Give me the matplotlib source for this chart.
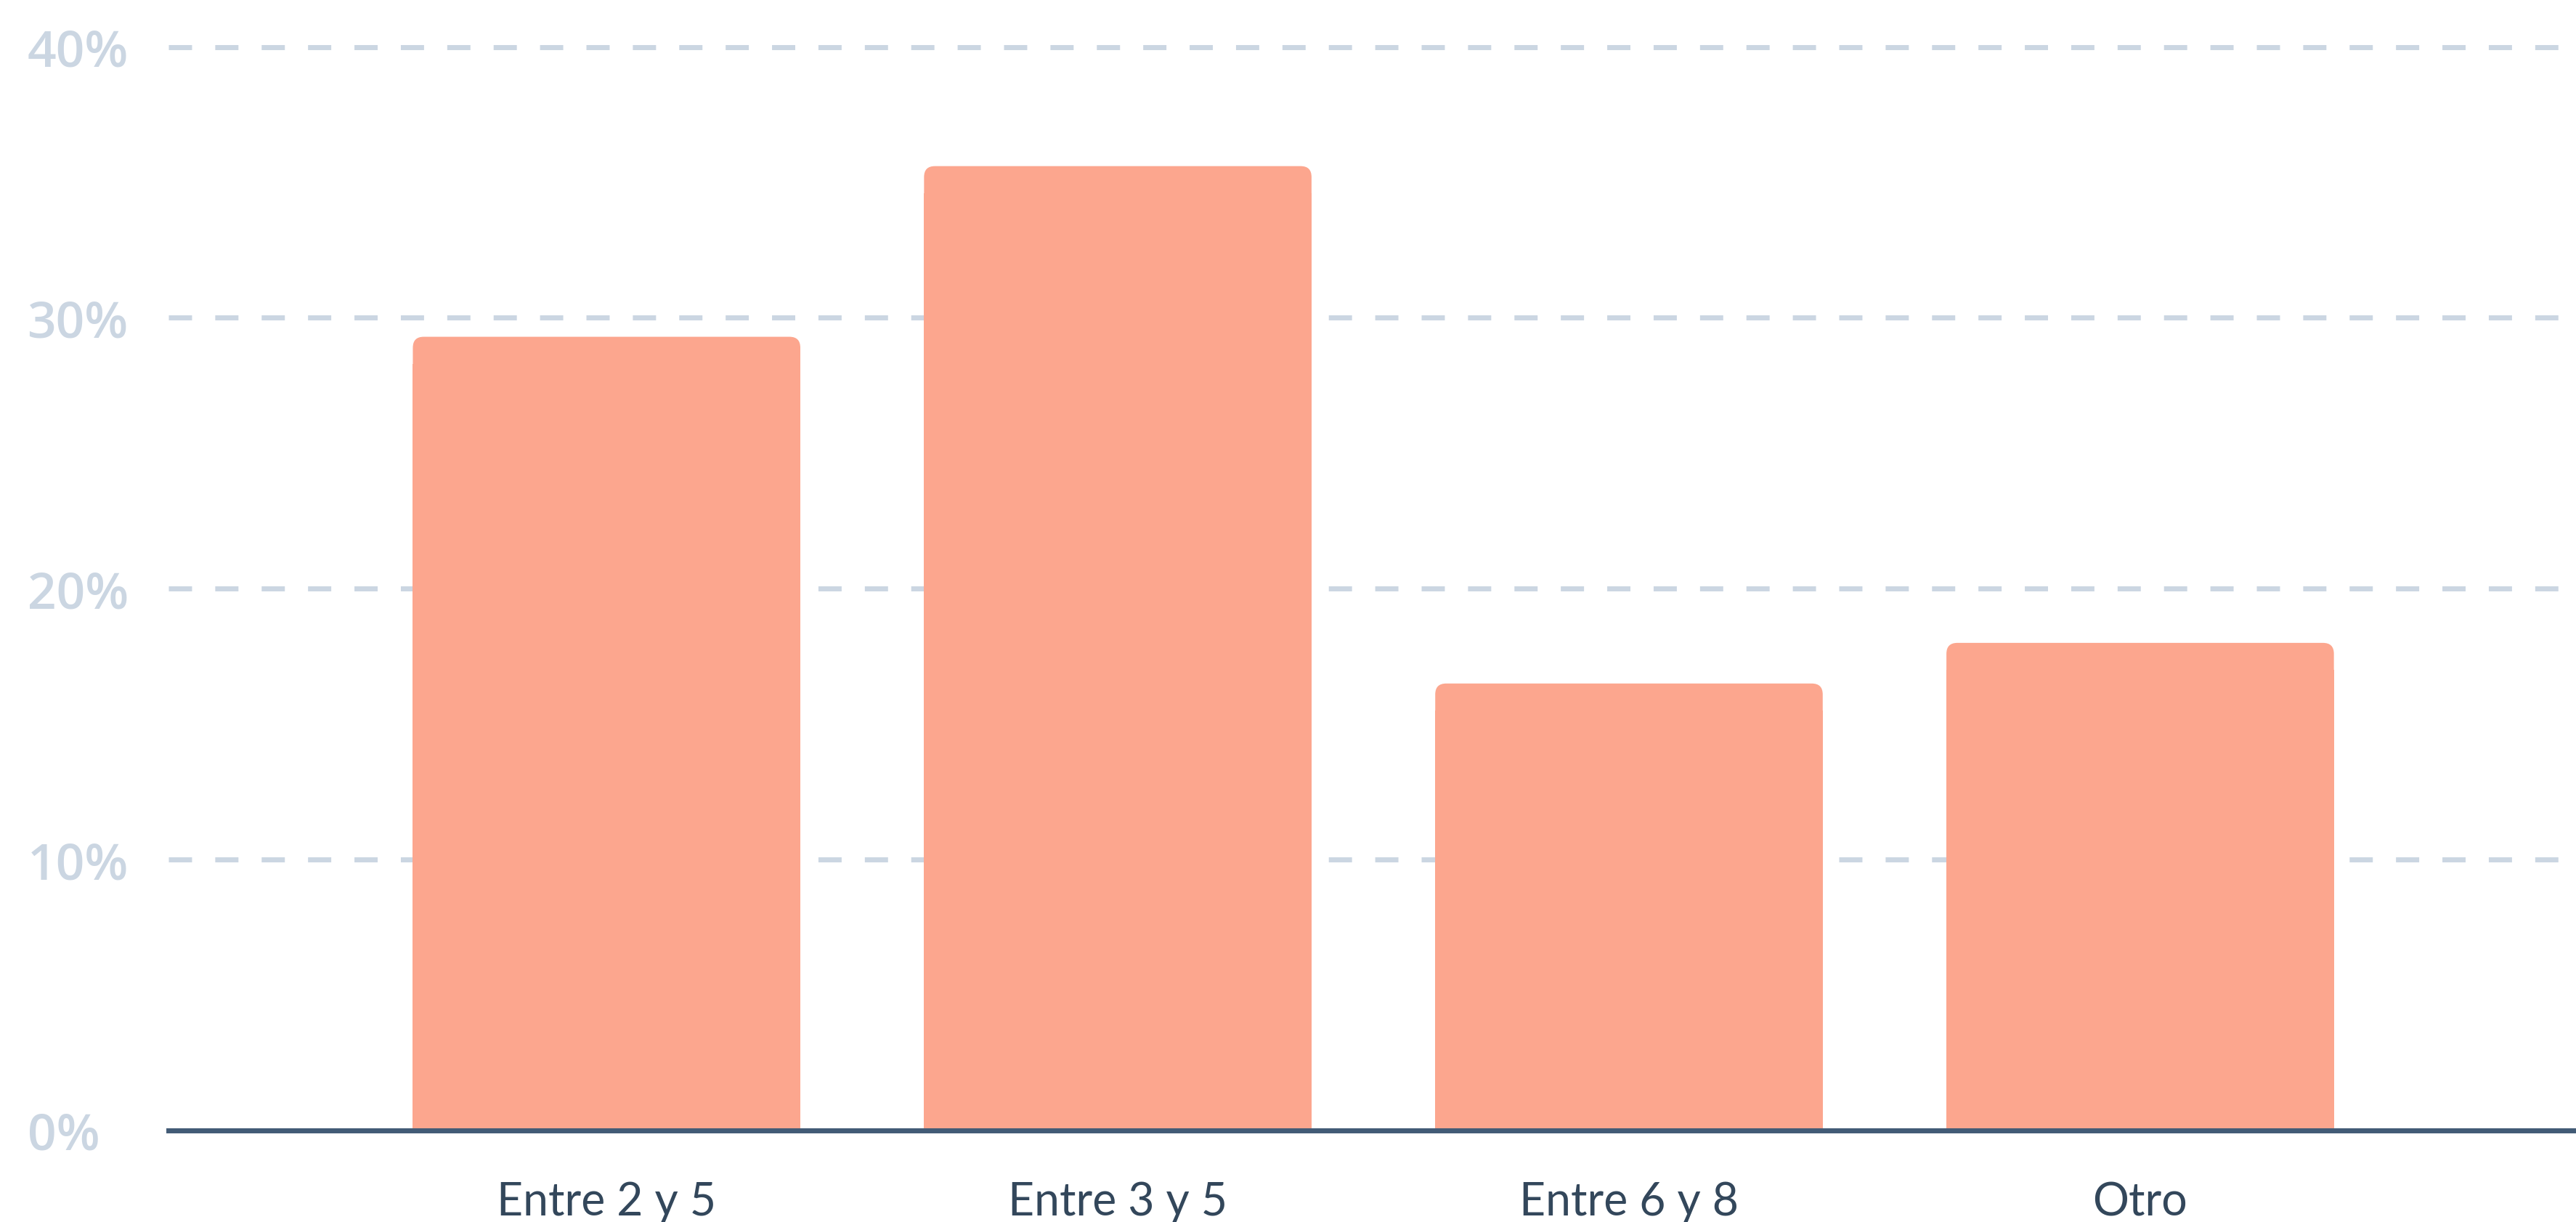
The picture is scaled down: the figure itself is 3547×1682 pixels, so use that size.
import matplotlib.pyplot as plt
from matplotlib.patches import FancyBboxPatch

# 資料
categories = ["Entre 2 y 5", "Entre 3 y 5", "Entre 6 y 8", "Otro"]
values = [29.3, 35.6, 16.5, 18.0]
yticks = [0, 10, 20, 30, 40]
ytick_labels = ["0%", "10%", "20%", "30%", "40%"]

bar_color = "#fca68e"
grid_color = "#cbd6e2"
axis_color = "#425b76"
label_color = "#33475b"

plt.rcParams.update({
    "font.family": ["Lato", "DejaVu Sans"],
})

fig = plt.figure(figsize=(35.48, 16.83), dpi=100)
ax = fig.add_axes([232 / 3548, 126 / 1683, 1 - 232 / 3548, (1617.4 - 126) / 1683])

x = list(range(len(categories)))
width = 0.758

# 平的下半部 + 圓角的整根
bars = ax.bar(x, [v - 1 for v in values], width=width, color=bar_color,
              zorder=2, linewidth=0)
for rect, v in zip(bars, values):
    patch = FancyBboxPatch((rect.get_x(), 0), rect.get_width(), v,
                           boxstyle="round,pad=0,rounding_size=0.0213",
                           mutation_aspect=18.9, facecolor=bar_color,
                           edgecolor="none", zorder=2)
    ax.add_patch(patch)

ax.set_xlim(-0.857, 3.854)
ax.set_ylim(0, 40)

# 網格線
for t in yticks[1:]:
    ax.axhline(t, color=grid_color, linewidth=5, linestyle=(0, (4.6, 4.6)),
               zorder=1, clip_on=False)

for s in ["top", "right", "left"]:
    ax.spines[s].set_visible(False)
ax.spines["bottom"].set_color(axis_color)
ax.spines["bottom"].set_linewidth(5)
ax.spines["bottom"].set_zorder(3)

ax.set_xticks(x)
ax.set_xticklabels(categories, fontsize=45, color=label_color)
ax.tick_params(axis="x", length=0, pad=50)

ax.set_yticks(yticks)
ax.set_yticklabels(ytick_labels, fontsize=50, color=grid_color,
                   fontweight="semibold", family=["Open Sans", "DejaVu Sans"])
ax.tick_params(axis="y", length=0, pad=140)
for lab in ax.get_yticklabels():
    lab.set_horizontalalignment("left")
    lab.set_verticalalignment("center_baseline")

fig.savefig("out.png", dpi=100, facecolor="white")
